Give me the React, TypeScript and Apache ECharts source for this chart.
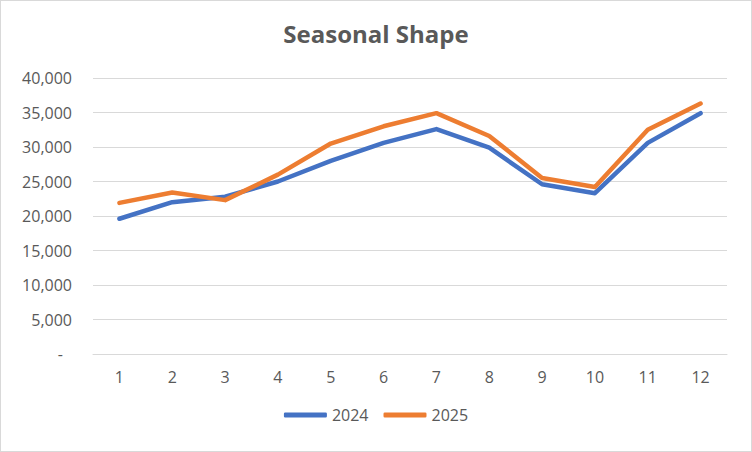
import React, { useEffect, useRef } from "react";
import * as echarts from "echarts";

const title = "Seasonal Shape";
const categories = ["1", "2", "3", "4", "5", "6", "7", "8", "9", "10", "11", "12"];
const series2024 = [19600, 22000, 22800, 25000, 28000, 30600, 32600, 29900, 24600, 23300, 30600, 34900];
const series2025 = [21900, 23400, 22300, 26000, 30500, 33000, 34900, 31600, 25500, 24200, 32500, 36300];
const seriesNames = ["2024", "2025"];
const colors = ["#4472C4", "#ED7D31"];

export default function App() {
  const ref = useRef<HTMLDivElement>(null);
  useEffect(() => {
    if (!ref.current) return;
    const chart = echarts.init(ref.current, null, { renderer: "svg" });
    const font = "'Open Sans', 'Noto Sans', sans-serif";
    chart.setOption({
      animation: false,
      backgroundColor: "#ffffff",
      title: {
        text: title,
        left: "center",
        top: 15,
        textStyle: { fontFamily: font, fontSize: 24, fontWeight: "bold", color: "#595959" },
      },
      grid: { left: 92, right: 24, top: 77, bottom: 97, containLabel: false },
      legend: {
        bottom: 23,
        left: "center",
        itemWidth: 43,
        itemHeight: 5,
        itemGap: 15,
        icon: "roundRect",
        data: seriesNames,
        textStyle: { fontFamily: font, fontSize: 16, color: "#595959" },
      },
      xAxis: {
        type: "category",
        data: categories,
        boundaryGap: true,
        axisLine: { lineStyle: { color: "#d9d9d9", width: 1 } },
        axisTick: { show: false },
        axisLabel: { fontFamily: font, fontSize: 16, color: "#595959", margin: 15 },
      },
      yAxis: {
        type: "value",
        min: 0,
        max: 40000,
        interval: 5000,
        axisLine: { show: false },
        axisTick: { show: false },
        splitLine: { lineStyle: { color: "#d9d9d9", width: 1 } },
        axisLabel: {
          fontFamily: font,
          fontSize: 16,
          color: "#595959",
          margin: 21,
          formatter: (v: number) => (v === 0 ? "{d|-}" : v.toLocaleString("en-US")),
          rich: { d: { fontFamily: font, fontSize: 16, color: "#595959", padding: [0, 9, 0, 0] } },
        },
      },
      series: [
        {
          name: seriesNames[0],
          type: "line",
          data: series2024,
          showSymbol: false,
          symbol: "none",
          color: colors[0],
          lineStyle: { width: 4.5, color: colors[0], cap: "round", join: "round" },
        },
        {
          name: seriesNames[1],
          type: "line",
          data: series2025,
          showSymbol: false,
          symbol: "none",
          color: colors[1],
          lineStyle: { width: 4.5, color: colors[1], cap: "round", join: "round" },
        },
      ],
    });
    return () => chart.dispose();
  }, []);
  return (
    <div
      ref={ref}
      style={{
        position: "fixed",
        left: 0,
        top: 0,
        width: 752,
        height: 452,
        boxSizing: "border-box",
        border: "1px solid #d9d9d9",
      }}
    />
  );
}
